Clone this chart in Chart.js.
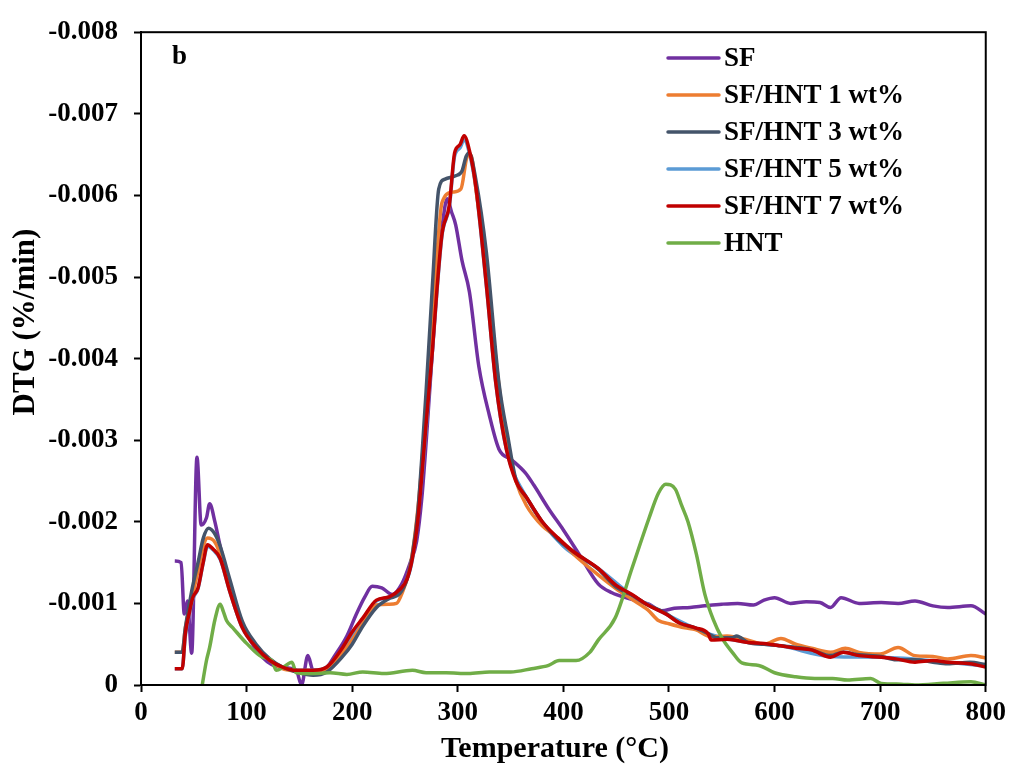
<!DOCTYPE html>
<html>
<head>
<meta charset="utf-8">
<script src="https://cdn.jsdelivr.net/npm/chart.js@4.4.0/dist/chart.umd.min.js"></script>
<style>
  html, body { margin: 0; padding: 0; background: #fff; }
  #wrap { width: 1011px; height: 767px; }
</style>
</head>
<body>
<div id="wrap"><canvas id="dtg-chart" width="1011" height="767"></canvas></div>
<script>
// temperatures (°C) and DTG values (%/min)
const sfT = [32,38,41,44,48,53,57,62,65,70,75,84,92,100,115,131,147,152,158,163,172,185,195,204,212,219,228,238,247,255,261,266,270,276,282,286,290,294,298,304,311,320,330,339,351,364,372,386,400,415,433,446,459,470,481,493,505,520,534,550,565,580,590,600,615,630,643,653,663,680,701,717,733,750,764,786,800];
const sfY = [-0.00152,-0.0015,-0.00087,-0.00103,-0.00039,-0.00279,-0.00196,-0.00205,-0.00222,-0.002,-0.0017,-0.00124,-0.0009,-0.00063,-0.00034,-0.00022,-0.00018,0,-0.00036,-0.00018,-0.00018,-0.00039,-0.0006,-0.00087,-0.00108,-0.00121,-0.00119,-0.00111,-0.00124,-0.0015,-0.00176,-0.0023,-0.00297,-0.0041,-0.0052,-0.0057,-0.00596,-0.0058,-0.00564,-0.0052,-0.00482,-0.0039,-0.0033,-0.00289,-0.00276,-0.0026,-0.00245,-0.00216,-0.0019,-0.0016,-0.00124,-0.00113,-0.00107,-0.00103,-0.00099,-0.00091,-0.00094,-0.00095,-0.00097,-0.00099,-0.001,-0.00098,-0.00104,-0.00107,-0.001,-0.00102,-0.00101,-0.00095,-0.00107,-0.001,-0.00101,-0.001,-0.00103,-0.00097,-0.00095,-0.00097,-0.00087];

const hnt1T = [32,39,42,48,54,59,63,70,75,84,96,109,122,134,147,163,176,191,200,210,223,235,242,248,254,259,264,270,276,281,285,295,303,309,312,318,327,336,346,355,365,380,395,410,433,450,465,480,490,500,515,525,540,555,575,590,606,620,635,653,667,680,700,717,733,750,764,786,800];
const hnt1Y = [-0.0004,-0.0004,-0.0007,-0.00105,-0.0014,-0.0017,-0.0018,-0.00175,-0.0016,-0.0012,-0.00075,-0.00048,-0.0003,-0.0002,-0.00017,-0.00015,-0.0002,-0.0004,-0.00055,-0.00075,-0.00098,-0.00099,-0.001,-0.00115,-0.0014,-0.0018,-0.0024,-0.0034,-0.0045,-0.0054,-0.00591,-0.00604,-0.00608,-0.00648,-0.0065,-0.006,-0.0051,-0.004,-0.003,-0.0025,-0.0022,-0.00195,-0.0018,-0.0016,-0.00135,-0.00118,-0.00105,-0.00092,-0.00079,-0.00075,-0.0007,-0.00068,-0.00059,-0.0006,-0.00055,-0.0005,-0.00057,-0.0005,-0.00045,-0.0004,-0.00045,-0.0004,-0.00038,-0.00046,-0.00036,-0.00035,-0.00032,-0.00036,-0.00033];

const hnt3T = [32,39,42,48,54,59,64,70,75,84,96,109,122,134,147,163,176,191,200,210,223,235,245,252,257,262,266,270,276,282,288,298,304,308,311,317,327,339,348,355,365,380,395,410,433,450,465,480,497,510,525,537,545,560,564,575,590,606,620,635,653,665,680,701,715,733,750,764,785,800];
const hnt3Y = [-0.0004,-0.0004,-0.0007,-0.00115,-0.0015,-0.0018,-0.00192,-0.00185,-0.0017,-0.0013,-0.00078,-0.0005,-0.00032,-0.00022,-0.00016,-0.00012,-0.00016,-0.00035,-0.0005,-0.00072,-0.00095,-0.00106,-0.00112,-0.0013,-0.0016,-0.0021,-0.0028,-0.0036,-0.0049,-0.00608,-0.0062,-0.00624,-0.0063,-0.00648,-0.00652,-0.0062,-0.00531,-0.0037,-0.003,-0.00252,-0.0023,-0.002,-0.00178,-0.00163,-0.00142,-0.0012,-0.0011,-0.00098,-0.00088,-0.00076,-0.0007,-0.00063,-0.00058,-0.00058,-0.0006,-0.00052,-0.0005,-0.00048,-0.00046,-0.00043,-0.00036,-0.0004,-0.00037,-0.00035,-0.00031,-0.00031,-0.00028,-0.00026,-0.00028,-0.00025];

const hnt5T = [32,39,42,49,54,59,63,68,75,84,96,109,122,134,147,163,176,191,210,223,235,245,257,266,276,285,292,297,302,306,311,317,327,336,346,365,400,433,465,497,537,575,606,653,701,764,800];
const hnt5Y = [-0.0002,-0.0002,-0.0006,-0.00105,-0.00118,-0.0015,-0.0017,-0.00166,-0.00154,-0.00115,-0.0007,-0.00046,-0.0003,-0.00022,-0.00018,-0.00018,-0.00022,-0.00045,-0.0008,-0.00103,-0.00108,-0.00116,-0.00154,-0.00255,-0.0041,-0.0055,-0.00586,-0.00648,-0.00658,-0.00668,-0.00652,-0.0061,-0.0049,-0.0037,-0.00289,-0.0023,-0.0017,-0.00143,-0.0011,-0.00087,-0.00063,-0.00052,-0.00048,-0.00035,-0.00034,-0.00028,-0.00023];

const hnt7T = [32,39,42,46,49,54,59,63,68,75,84,96,109,122,134,147,163,176,191,200,210,223,235,245,252,257,262,266,270,276,280,285,292,297,302,306,311,317,327,336,346,355,365,380,395,410,433,450,465,480,497,510,525,537,540,555,575,590,606,620,635,653,665,680,701,715,733,750,764,785,800];
const hnt7Y = [-0.0002,-0.0002,-0.00063,-0.0009,-0.00107,-0.00119,-0.00151,-0.00172,-0.00167,-0.00155,-0.00115,-0.0007,-0.00046,-0.0003,-0.00022,-0.00018,-0.00018,-0.00022,-0.00046,-0.00065,-0.00082,-0.00104,-0.00108,-0.00117,-0.0013,-0.00155,-0.002,-0.00257,-0.0032,-0.0041,-0.0048,-0.00552,-0.00588,-0.00652,-0.00662,-0.00673,-0.00655,-0.00612,-0.00491,-0.0037,-0.00289,-0.0025,-0.0023,-0.002,-0.0018,-0.00163,-0.00143,-0.00122,-0.00111,-0.00098,-0.00087,-0.00076,-0.0007,-0.00063,-0.00055,-0.00056,-0.00052,-0.00051,-0.00048,-0.00045,-0.00043,-0.00034,-0.0004,-0.00036,-0.00034,-0.00032,-0.00028,-0.0003,-0.00028,-0.00026,-0.00022];

const hntT = [58,62,65,70,75,78,81,87,100,115,124,128,135,143,147,160,179,195,210,230,257,270,289,310,330,350,370,386,396,412,425,433,449,465,481,490,497,506,512,518,526,534,542,550,560,569,585,600,620,638,655,669,691,701,720,733,760,786,800];
const hntY = [0,-0.0003,-0.00046,-0.0008,-0.00099,-0.0009,-0.00079,-0.0007,-0.00051,-0.00034,-0.0003,-0.00018,-0.00022,-0.00028,-0.00015,-0.00014,-0.00015,-0.00013,-0.00016,-0.00014,-0.00018,-0.00015,-0.00015,-0.00014,-0.00016,-0.00016,-0.0002,-0.00024,-0.0003,-0.0003,-0.0004,-0.00055,-0.00082,-0.00143,-0.00204,-0.00235,-0.00246,-0.0024,-0.0022,-0.002,-0.0016,-0.00111,-0.0008,-0.00058,-0.0004,-0.00027,-0.00024,-0.00015,-0.0001,-0.00008,-0.00008,-0.00006,-0.00008,-0.00002,-0.00001,0,-0.00002,-0.00004,0];

const seriesNames = ['SF', 'SF/HNT 1 wt%', 'SF/HNT 3 wt%', 'SF/HNT 5 wt%', 'SF/HNT 7 wt%', 'HNT'];
const seriesColors = ['#7030A0', '#ED7D31', '#44546A', '#5B9BD5', '#C00000', '#70AD47'];
// lower order is painted on top
const seriesOrder = [5, 3, 2, 4, 0, 1];

const FONT = '"Liberation Serif", "Times New Roman", serif';

const toPoints = (xs, ys) => xs.map((x, i) => ({ x: x, y: ys[i] }));
const allSeries = [
    toPoints(sfT, sfY), toPoints(hnt1T, hnt1Y), toPoints(hnt3T, hnt3Y),
    toPoints(hnt5T, hnt5Y), toPoints(hnt7T, hnt7Y), toPoints(hntT, hntY)
];

const frameAndText = {
    id: 'frameAndText',
    afterDraw(chart) {
        const { ctx, chartArea: a } = chart;
        ctx.save();
        ctx.strokeStyle = '#000';
        ctx.lineWidth = 2;
        ctx.strokeRect(a.left, a.top, a.right - a.left, a.bottom - a.top);

        ctx.fillStyle = '#000';
        ctx.font = 'bold 27px ' + FONT;
        ctx.textBaseline = 'middle';
        ctx.textAlign = 'left';
        ctx.fillText('b', 172, 57);

        // legend
        chart.data.datasets.forEach((ds, i) => {
            const y = 58 + i * 37;
            ctx.strokeStyle = ds.borderColor;
            ctx.lineWidth = 3.5;
            ctx.lineCap = 'round';
            ctx.beginPath();
            ctx.moveTo(668, y);
            ctx.lineTo(719, y);
            ctx.stroke();
            ctx.fillStyle = '#000';
            ctx.font = 'bold 27px ' + FONT;
            ctx.fillText(ds.label, 724, y + 1);
        });

        // axis titles
        ctx.textAlign = 'center';
        ctx.font = 'bold 30px ' + FONT;
        ctx.fillText('Temperature (°C)', 555, 749);
        ctx.font = 'bold 31px ' + FONT;
        ctx.translate(26, 322);
        ctx.rotate(-Math.PI / 2);
        ctx.fillText('DTG (%/min)', 0, 0);
        ctx.restore();
    }
};

new Chart(document.getElementById('dtg-chart'), {
    type: 'line',
    data: {
        datasets: seriesNames.map((name, i) => ({
            label: name,
            data: allSeries[i],
            borderColor: seriesColors[i],
            backgroundColor: seriesColors[i],
            borderWidth: 3.5,
            pointRadius: 0,
            cubicInterpolationMode: 'monotone',
            fill: false,
            order: seriesOrder[i]
        }))
    },
    options: {
        responsive: false,
        animation: false,
        devicePixelRatio: 1,
        layout: { padding: { top: 25, right: 23, left: 0, bottom: 0 } },
        plugins: { legend: { display: false }, tooltip: { enabled: false } },
        scales: {
            x: {
                type: 'linear',
                min: 0,
                max: 800,
                afterFit: (scale) => { scale.height = 82; },
                ticks: {
                    stepSize: 100,
                    padding: 5,
                    color: '#000',
                    font: { family: FONT, size: 27, weight: 'bold' }
                },
                grid: { drawOnChartArea: false, drawTicks: true, tickLength: 7, tickColor: '#000', tickWidth: 2 },
                border: { display: true, color: '#000', width: 2 }
            },
            y: {
                type: 'linear',
                min: -0.008,
                max: 0,
                reverse: true,
                afterFit: (scale) => { scale.width = 141; },
                ticks: {
                    stepSize: 0.001,
                    padding: 16,
                    color: '#000',
                    font: { family: FONT, size: 27, weight: 'bold' },
                    callback: (v) => (Math.abs(v) < 1e-9 ? '0' : v.toFixed(3))
                },
                grid: { drawOnChartArea: false, drawTicks: true, tickLength: 7, tickColor: '#000', tickWidth: 2 },
                border: { display: true, color: '#000', width: 2 }
            }
        }
    },
    plugins: [frameAndText]
});
</script>
</body>
</html>
